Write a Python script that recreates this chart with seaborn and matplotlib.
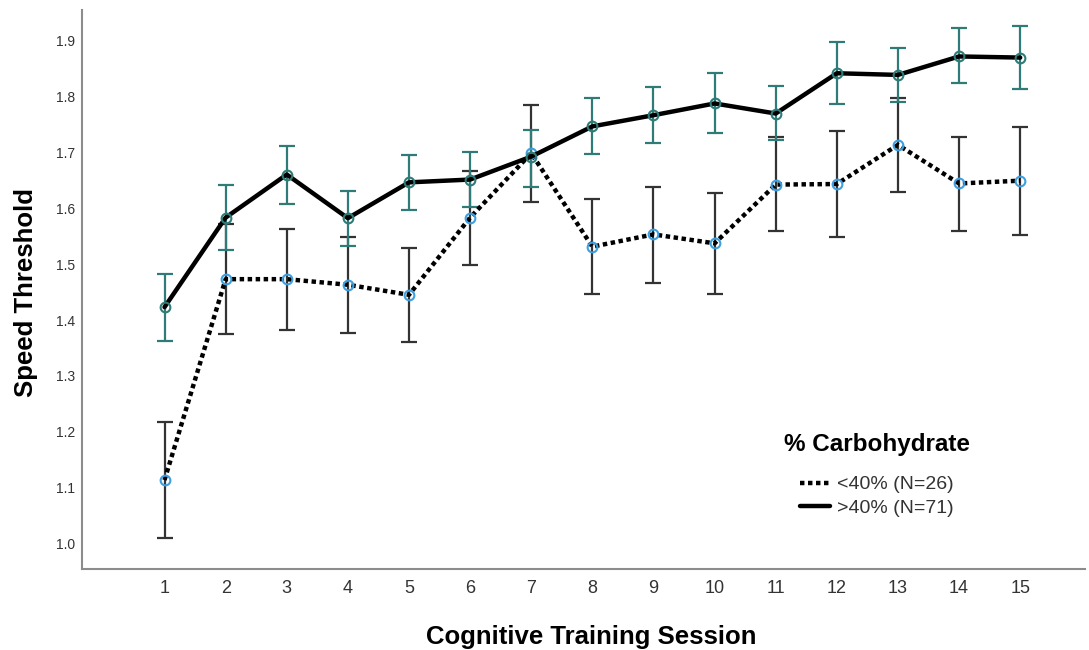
import numpy as np
import pandas as pd
import matplotlib
matplotlib.use("Agg")
import matplotlib.pyplot as plt
from matplotlib.lines import Line2D
import seaborn as sns

# Sessions and group means / error bar bounds
sessions = list(range(1, 16))

low_carb_mean = [1.114, 1.473, 1.473, 1.463, 1.445, 1.583, 1.698, 1.531, 1.553, 1.537, 1.642, 1.643, 1.713, 1.644, 1.649]
low_carb_lo = [1.010, 1.375, 1.382, 1.377, 1.360, 1.498, 1.611, 1.446, 1.467, 1.446, 1.559, 1.548, 1.628, 1.559, 1.552]
low_carb_hi = [1.217, 1.571, 1.562, 1.549, 1.528, 1.667, 1.785, 1.616, 1.638, 1.627, 1.727, 1.738, 1.796, 1.727, 1.745]

high_carb_mean = [1.423, 1.583, 1.660, 1.582, 1.646, 1.651, 1.692, 1.746, 1.766, 1.787, 1.769, 1.841, 1.838, 1.871, 1.869]
high_carb_lo = [1.363, 1.526, 1.607, 1.532, 1.596, 1.602, 1.638, 1.696, 1.717, 1.734, 1.721, 1.786, 1.790, 1.824, 1.812]
high_carb_hi = [1.482, 1.641, 1.711, 1.631, 1.695, 1.700, 1.739, 1.796, 1.816, 1.841, 1.818, 1.896, 1.887, 1.921, 1.926]

group_labels = ["<40% (N=26)", ">40% (N=71)"]
legend_title = "% Carbohydrate"
y_ticks = [1.0, 1.1, 1.2, 1.3, 1.4, 1.5, 1.6, 1.7, 1.8, 1.9]

sns.set_style("white")
plt.rcParams["font.family"] = ["Liberation Sans", "DejaVu Sans"]

df = pd.DataFrame({
    "session": sessions * 2,
    "threshold": low_carb_mean + high_carb_mean,
    "group": [group_labels[0]] * 15 + [group_labels[1]] * 15,
})

fig = plt.figure(figsize=(10.89, 6.5), dpi=100)
ax = fig.add_axes([0.0753, 0.1246, 0.921, 0.86])

teal = "#2f7b78"
blue = "#3d9fe0"
dark = "#333333"
dot_style = (0, (1, 0.8))

# error bars
ax.errorbar(sessions, low_carb_mean,
            yerr=[np.array(low_carb_mean) - np.array(low_carb_lo),
                  np.array(low_carb_hi) - np.array(low_carb_mean)],
            fmt="none", ecolor=dark, elinewidth=1.6, capsize=5.5, capthick=1.6, zorder=2)
ax.errorbar(sessions, high_carb_mean,
            yerr=[np.array(high_carb_mean) - np.array(high_carb_lo),
                  np.array(high_carb_hi) - np.array(high_carb_mean)],
            fmt="none", ecolor=teal, elinewidth=1.6, capsize=5.5, capthick=1.6, zorder=2)

# lines with open circle markers
sns.lineplot(data=df[df["group"] == group_labels[0]], x="session", y="threshold",
             color="black", linewidth=3.2, linestyle=dot_style, marker="o",
             markersize=7, markerfacecolor="none", markeredgecolor=blue,
             markeredgewidth=1.5, ax=ax, zorder=3)
sns.lineplot(data=df[df["group"] == group_labels[1]], x="session", y="threshold",
             color="black", linewidth=3.2, marker="o",
             markersize=7, markerfacecolor="none", markeredgecolor=teal,
             markeredgewidth=1.5, ax=ax, zorder=3)

ax.set_xlim(-0.35, 16.06)
ax.set_ylim(0.955, 1.954)
ax.set_xticks(sessions)
ax.set_xticklabels([str(s) for s in sessions])
ax.set_yticks(y_ticks)
ax.set_yticklabels([f"{v:.1f}" for v in y_ticks])
ax.tick_params(axis="both", length=0, colors="#333333")
ax.tick_params(axis="x", labelsize=13, pad=8)
ax.tick_params(axis="y", labelsize=10, pad=5)

ax.set_xlabel("Cognitive Training Session", fontsize=18.5, fontweight="bold", color="black")
ax.set_ylabel("Speed Threshold", fontsize=18.5, fontweight="bold", color="black")
ax.xaxis.set_label_coords(0.508, -0.1)
ax.yaxis.set_label_coords(-0.044, 0.495)

sns.despine(ax=ax)
for side in ["left", "bottom"]:
    ax.spines[side].set_color("#8c8c8c")
    ax.spines[side].set_linewidth(1.5)

handles = [
    Line2D([0], [0], color="black", linewidth=3.2, linestyle=dot_style),
    Line2D([0], [0], color="black", linewidth=3.2),
]
leg = ax.legend(handles, group_labels, frameon=False,
                loc="center left", bbox_to_anchor=(800 / 1089, 1 - 496.5 / 650),
                bbox_transform=fig.transFigure, borderpad=0, borderaxespad=0,
                fontsize=14, handlelength=1.55, handletextpad=0.36, labelspacing=0.32)
for t in leg.get_texts():
    t.set_color("#333333")
fig.text(877 / 1089, 1 - 445 / 650, legend_title, ha="center", va="center",
         fontsize=17.5, fontweight="bold", color="black")

plt.savefig("out.png", dpi=100)
plt.close()
